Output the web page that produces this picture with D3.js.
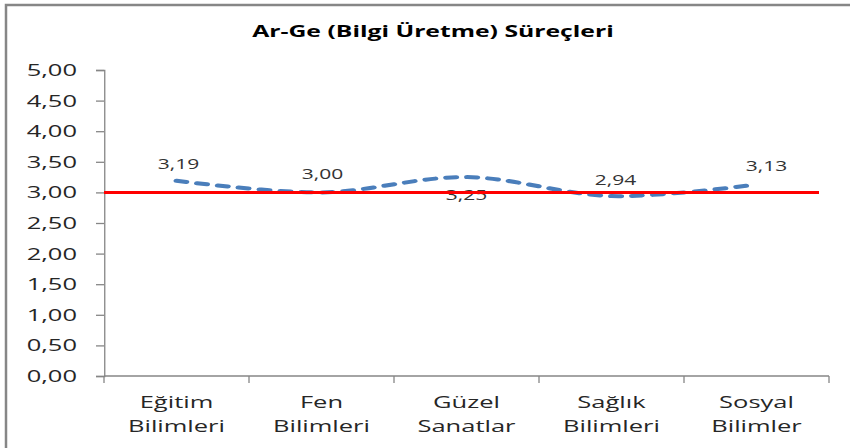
<!DOCTYPE html>
<html>
<head>
<meta charset="utf-8">
<script src="https://cdn.jsdelivr.net/npm/d3@7"></script>
<style>
  body { margin: 0; background: #fff; overflow: hidden; }
  svg { display: block; }
  text { font-family: "Open Sans", sans-serif; }
</style>
</head>
<body>
<svg id="chart"></svg>
<script>
// chart data
var categories = [["Eğitim", "Bilimleri"], ["Fen", "Bilimleri"], ["Güzel", "Sanatlar"], ["Sağlık", "Bilimleri"], ["Sosyal", "Bilimler"]];
var values = [3.19, 3.00, 3.25, 2.94, 3.13];
var yTicks = [0, 0.5, 1, 1.5, 2, 2.5, 3, 3.5, 4, 4.5, 5];
var refValue = 3.00;
var title = "Ar-Ge (Bilgi Üretme) Süreçleri";
// label offsets (dx, dy) in screen pixels, as placed in the original
var labelOffsets = [[2, -12], [1, -13], [0, 23], [4, -11], [10, -13]];

// the original picture is stretched horizontally, so draw in a narrower
// logical space and let the viewBox stretch it
var S = 1.5;
var W = 850 / S, H = 448;
var plot = { left: 104 / S, right: 829 / S, top: 70, bottom: 376 };
var fmt = function(v) { return d3.format(".2f")(v).replace(".", ","); };

var svg = d3.select("#chart")
  .attr("width", 850).attr("height", H)
  .attr("viewBox", "0 0 " + W + " " + H)
  .attr("preserveAspectRatio", "none");

// outer frame: only the top and left edges are in view
svg.append("path")
  .attr("d", "M" + (6 / S) + "," + (H + 10) + "V5H" + (W + 10))
  .attr("fill", "none")
  .attr("stroke", "#868686")
  .attr("stroke-width", 2.5)
  .attr("vector-effect", "non-scaling-stroke");

var x = d3.scaleBand().domain(d3.range(categories.length)).range([plot.left, plot.right]);
var y = d3.scaleLinear().domain([0, 5]).range([plot.bottom, plot.top]);

// title
svg.append("text")
  .attr("x", 433 / S).attr("y", 37)
  .attr("text-anchor", "middle")
  .attr("font-size", "16.5px")
  .attr("font-weight", "bold")
  .attr("fill", "#000")
  .text(title);

// y axis
var yAxis = svg.append("g")
  .attr("transform", "translate(" + plot.left + ",0)")
  .call(d3.axisLeft(y).tickValues(yTicks).tickFormat(fmt).tickSize(8 / S).tickPadding(19 / S));
yAxis.select(".domain").attr("stroke", "#868686").attr("stroke-width", 1.3).attr("vector-effect", "non-scaling-stroke");
yAxis.selectAll(".tick line").attr("stroke", "#868686").attr("stroke-width", 1.3).attr("vector-effect", "non-scaling-stroke");
yAxis.selectAll(".tick text")
  .attr("font-family", "Open Sans, sans-serif")
  .attr("font-size", "17px")
  .attr("fill", "#262626");

// x axis with ticks at band edges
var xAxisG = svg.append("g");
xAxisG.append("line")
  .attr("x1", plot.left).attr("x2", plot.right)
  .attr("y1", plot.bottom).attr("y2", plot.bottom)
  .attr("stroke", "#868686").attr("stroke-width", 1.3)
  .attr("vector-effect", "non-scaling-stroke");
xAxisG.selectAll("line.xt")
  .data(d3.range(categories.length + 1))
  .enter().append("line")
  .attr("class", "xt")
  .attr("x1", function(d) { return plot.left + d * x.step(); })
  .attr("x2", function(d) { return plot.left + d * x.step(); })
  .attr("y1", plot.bottom).attr("y2", plot.bottom + 7)
  .attr("stroke", "#868686").attr("stroke-width", 1.3)
  .attr("vector-effect", "non-scaling-stroke");
var xl = xAxisG.selectAll("text.xl")
  .data(categories)
  .enter().append("text")
  .attr("class", "xl")
  .attr("text-anchor", "middle")
  .attr("font-size", "17px")
  .attr("fill", "#262626");
xl.each(function(d, i) {
  var t = d3.select(this);
  d.forEach(function(line, j) {
    t.append("tspan")
      .attr("x", x(i) + x.bandwidth() / 2)
      .attr("y", 408 + j * 24)
      .text(line);
  });
});

// smoothed dashed series line
var line = d3.line()
  .x(function(d, i) { return x(i) + x.bandwidth() / 2; })
  .y(function(d) { return y(d); })
  .curve(d3.curveCardinal.tension(0));
svg.append("path")
  .datum(values)
  .attr("fill", "none")
  .attr("stroke", "#4a7ebb")
  .attr("stroke-width", 4)
  .attr("stroke-linecap", "round")
  .attr("stroke-dasharray", "6.7,7.3")
  .attr("d", line);

// data labels
svg.selectAll("text.lbl")
  .data(values)
  .enter().append("text")
  .attr("class", "lbl")
  .attr("x", function(d, i) { return x(i) + x.bandwidth() / 2 + labelOffsets[i][0] / S; })
  .attr("y", function(d, i) { return y(d) + labelOffsets[i][1]; })
  .attr("text-anchor", "middle")
  .attr("font-size", "14px")
  .attr("fill", "#333")
  .text(function(d) { return fmt(d); });

// reference line at 3,00
svg.append("line")
  .attr("x1", plot.left).attr("x2", plot.right - 10 / S)
  .attr("y1", y(refValue)).attr("y2", y(refValue))
  .attr("stroke", "#ff0000")
  .attr("stroke-width", 3)
  .attr("vector-effect", "non-scaling-stroke");
</script>
</body>
</html>
